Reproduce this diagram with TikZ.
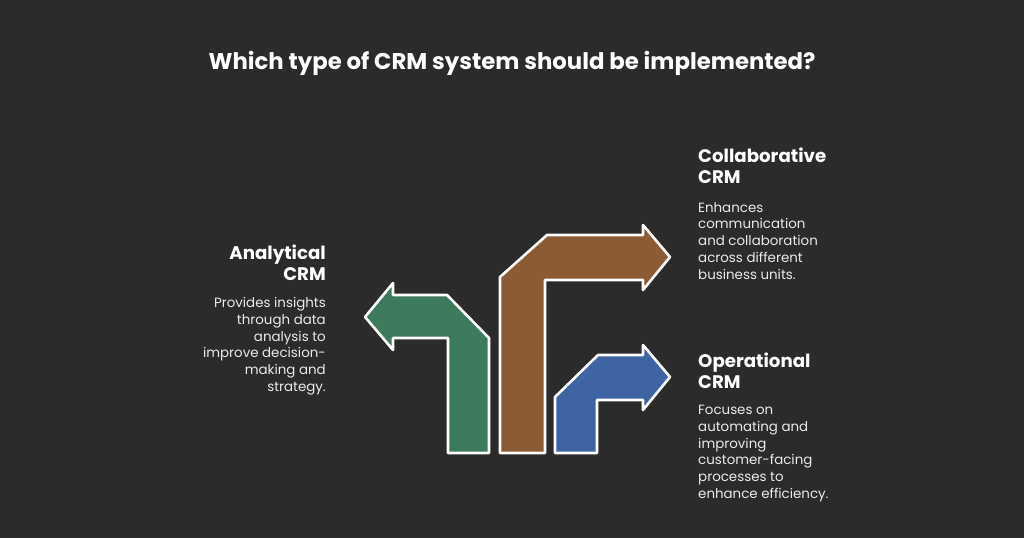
\documentclass[tikz,border=0pt]{standalone}
\usepackage{fontspec}
\setmainfont{Poppins}
\definecolor{bgdark}{HTML}{2B2B2B}
\definecolor{anagreen}{HTML}{3E7A5C}
\definecolor{colbrown}{HTML}{8A5B34}
\definecolor{opblue}{HTML}{3F64A3}
\tikzset{
    arrowline/.style={draw=white, line width=2.6pt, line join=round},
    headtext/.style={text=white, font=\fontsize{18.2}{20.5}\selectfont\bfseries, inner sep=0pt},
    bodytext/.style={text=white!92!black, font=\fontsize{13.4}{16.8}\selectfont, inner sep=0pt}
}
\begin{document}
\begin{tikzpicture}[x=1pt, y=-1pt]
    \fill[bgdark] (0,0) rectangle (1024,538);

    \node[text=white, font=\fontsize{22.8}{26}\selectfont\bfseries, inner sep=0pt] (title) at (512,63) {Which type of CRM system should be implemented?};

    % green arrow, pointing left
    \filldraw[arrowline, fill=anagreen] (448,453) -- (448,338) -- (393,338) -- (393,350) -- (365,317)
        -- (393,283) -- (393,295) -- (447,295) -- (489,338) -- (489,453) -- cycle;

    % brown arrow, pointing right (top)
    \filldraw[arrowline, fill=colbrown] (500,453) -- (500,277) -- (547,235) -- (643,235) -- (643,225) -- (670,257)
        -- (643,290) -- (643,280) -- (545,280) -- (545,453) -- cycle;

    % blue arrow, pointing right (low)
    \filldraw[arrowline, fill=opblue] (555,453) -- (555,397) -- (598,355) -- (643,355) -- (643,345) -- (670,377)
        -- (643,410) -- (643,400) -- (597,400) -- (597,453) -- cycle;

    \node[headtext, anchor=north east, align=right] (anahead) at (326,245) {Analytical\\CRM};
    \node[bodytext, anchor=north east, align=right] (anatext) at (326,297) {Provides insights\\through data\\analysis to\\improve decision-\\making and\\strategy.};

    \node[headtext, anchor=north west, align=left] (colhead) at (698,148) {Collaborative\\CRM};
    \node[bodytext, anchor=north west, align=left] (coltext) at (698,202) {Enhances\\communication\\and collaboration\\across different\\business units.};

    \node[headtext, anchor=north west, align=left] (ophead) at (698,353) {Operational\\CRM};
    \node[bodytext, anchor=north west, align=left] (optext) at (698,405) {Focuses on\\automating and\\improving\\customer-facing\\processes to\\enhance efficiency.};
\end{tikzpicture}
\end{document}
